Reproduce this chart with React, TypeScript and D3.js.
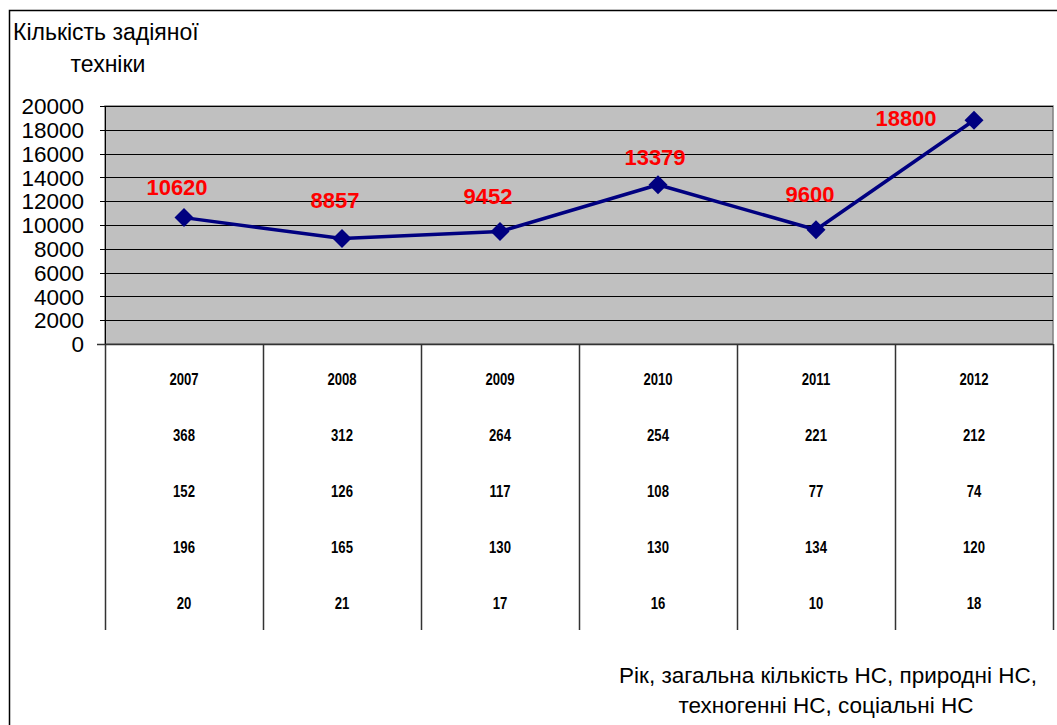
import * as d3 from 'd3';

// Chart data
const years = ['2007', '2008', '2009', '2010', '2011', '2012'];
const equipment = [10620, 8857, 9452, 13379, 9600, 18800];
const totalNS = [368, 312, 264, 254, 221, 212];
const naturalNS = [152, 126, 117, 108, 77, 74];
const technoNS = [196, 165, 130, 130, 134, 120];
const socialNS = [20, 21, 17, 16, 10, 18];
const yTicks = [0, 2000, 4000, 6000, 8000, 10000, 12000, 14000, 16000, 18000, 20000];

// label placement (manual, as in the source sheet)
const labelDx = [-7, -7, -12, -3, -6, -68];
const labelDy = [-31, -39, -35, -28, -36, -2];

const W = 1057;
const H = 725;
const plot = { left: 105, right: 1053, top: 106, bottom: 344 };
const tableBottom = 630;
const rowY = [379, 435, 491, 547, 603];
const font = '"Liberation Sans", Arial, sans-serif';

function App() {
  const x = d3.scaleBand<string>().domain(years).range([plot.left, plot.right]).padding(0);
  const y = d3.scaleLinear().domain([0, 20000]).range([plot.bottom, plot.top]);
  const cx = (yr: string) => (x(yr) ?? 0) + x.bandwidth() / 2;

  const line = d3
    .line<number>()
    .x((_, i) => cx(years[i]))
    .y((d) => y(d));

  const rows = [years, totalNS, naturalNS, technoNS, socialNS];

  return (
    <svg width={W} height={H} style={{ position: 'absolute', left: 0, top: 0, background: '#fff' }}>
      {/* outer frame */}
      <rect x={9.5} y={10.5} width={1100} height={800} fill="#fff" stroke="#000" strokeWidth={1.5} />

      {/* plot area */}
      <rect x={plot.left} y={plot.top} width={plot.right - plot.left} height={plot.bottom - plot.top} fill="#c0c0c0" stroke="#808080" strokeWidth={1.5} />
      {yTicks.slice(1).map((t) => (
        <line key={'g' + t} x1={plot.left} x2={plot.right} y1={Math.round(y(t)) + 0.5} y2={Math.round(y(t)) + 0.5} stroke="#000" strokeWidth={1} />
      ))}

      {/* y axis */}
      <line x1={plot.left + 0.5} x2={plot.left + 0.5} y1={plot.top} y2={plot.bottom} stroke="#000" />
      {yTicks.map((t) => (
        <g key={'t' + t}>
          <line x1={plot.left - 5} x2={plot.left} y1={Math.round(y(t)) + 0.5} y2={Math.round(y(t)) + 0.5} stroke="#000" />
          <text x={84} y={y(t)} dy="0.36em" textAnchor="end" fontFamily={font} fontSize={22.5} fill="#000">
            {t}
          </text>
        </g>
      ))}

      {/* category axis and table */}
      <line x1={plot.left - 8} x2={plot.right} y1={plot.bottom + 0.5} y2={plot.bottom + 0.5} stroke="#333" strokeWidth={1.5} />
      {[...years.map((yr) => x(yr) ?? 0), plot.right].map((xv, i) => (
        <line key={'d' + i} x1={Math.round(xv) + 0.5} x2={Math.round(xv) + 0.5} y1={plot.bottom} y2={tableBottom} stroke="#333" strokeWidth={1.5} />
      ))}
      {rows.map((row, r) =>
        row.map((v, i) => (
          <text
            key={`c${r}-${i}`}
            transform={`translate(${cx(years[i])},${rowY[r]}) scale(0.82,1)`}
            dy="0.36em"
            textAnchor="middle"
            fontFamily={font}
            fontWeight="bold"
            fontSize={16}
            fill="#000"
          >
            {v}
          </text>
        ))
      )}

      {/* series */}
      <path d={line(equipment) ?? ''} fill="none" stroke="#000080" strokeWidth={3.5} strokeLinejoin="round" />
      {equipment.map((v, i) => {
        const px = cx(years[i]);
        const py = y(v);
        const r = 9.5;
        return <path key={'m' + i} d={`M${px},${py - r}L${px + r},${py}L${px},${py + r}L${px - r},${py}Z`} fill="#000080" />;
      })}
      {equipment.map((v, i) => (
        <text
          key={'l' + i}
          x={cx(years[i]) + labelDx[i]}
          y={y(v) + labelDy[i]}
          dy="0.36em"
          textAnchor="middle"
          fontFamily={font}
          fontWeight="bold"
          fontSize={22}
          fill="#ff0000"
        >
          {v}
        </text>
      ))}

      {/* axis titles */}
      <text x={13} y={32} dy="0.36em" fontFamily={font} fontSize={23} fill="#000">
        Кількість задіяної
      </text>
      <text x={108} y={64} dy="0.36em" textAnchor="middle" fontFamily={font} fontSize={23} fill="#000">
        техніки
      </text>
      <text x={828} y={675} dy="0.36em" textAnchor="middle" fontFamily={font} fontSize={22.5} fill="#000">
        Рік, загальна кількість НС, природні НС,
      </text>
      <text x={826} y={705} dy="0.36em" textAnchor="middle" fontFamily={font} fontSize={22.5} fill="#000">
        техногенні НС, соціальні НС
      </text>
    </svg>
  );
}

export default App;
